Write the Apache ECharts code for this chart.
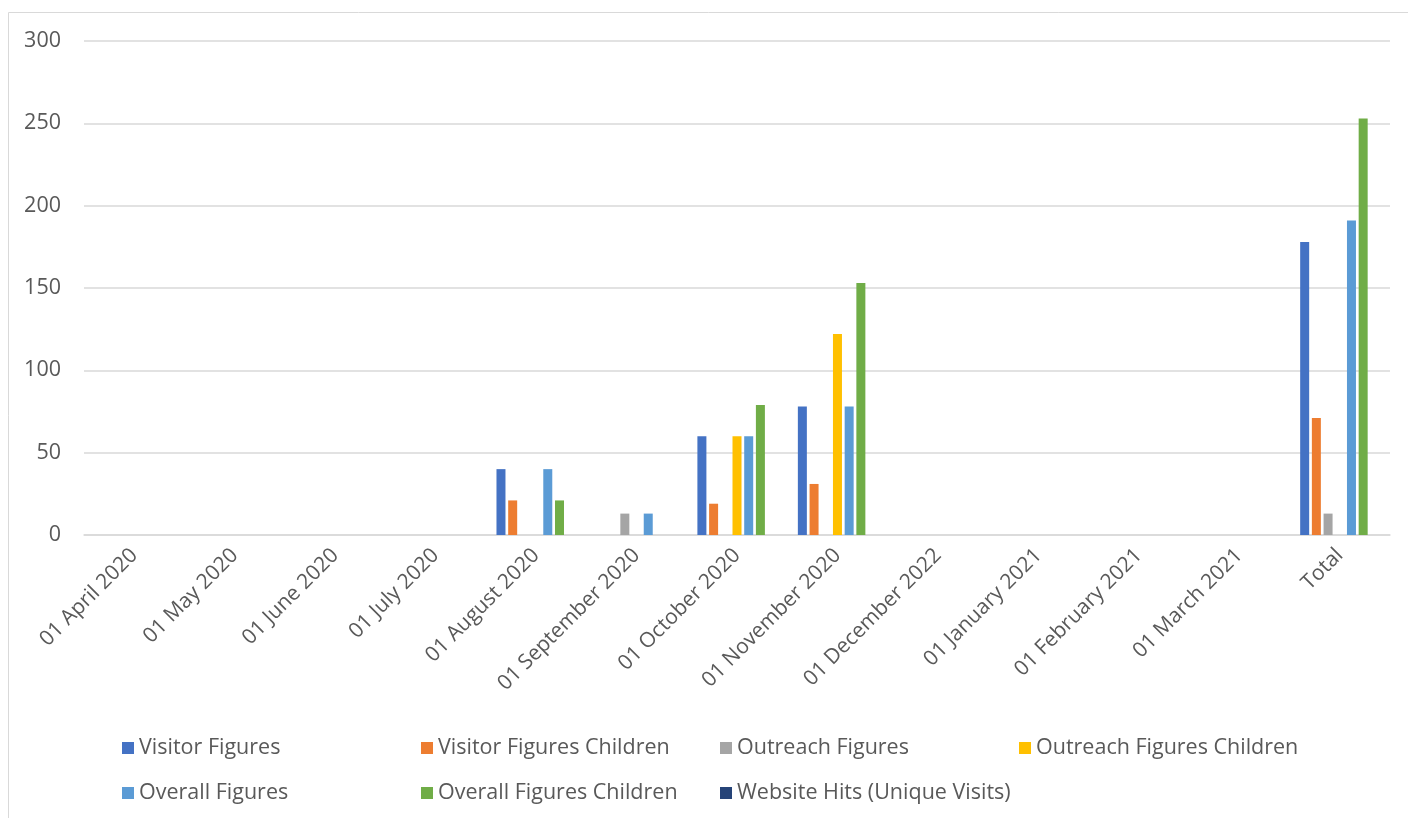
<!DOCTYPE html>
<html>
<head>
<meta charset="utf-8">
<script src="https://cdn.jsdelivr.net/npm/echarts@6/dist/echarts.min.js"></script>
<style>html,body{margin:0;padding:0;background:#fff}#c{width:1408px;height:818px}</style>
</head>
<body>
<div id="c"></div>
<script>
const categories = ['01 April 2020','01 May 2020','01 June 2020','01 July 2020','01 August 2020','01 September 2020','01 October 2020','01 November 2020','01 December 2022','01 January 2021','01 February 2021','01 March 2021','Total'];
const seriesNames = ['Visitor Figures','Visitor Figures Children','Outreach Figures','Outreach Figures Children','Overall Figures','Overall Figures Children','Website Hits (Unique Visits)'];
const colors = ['#4472C4','#ED7D31','#A5A5A5','#FFC000','#5B9BD5','#70AD47','#264478'];
const visitorFigures          = [null,null,null,null,40,null,60,78,null,null,null,null,178];
const visitorFiguresChildren  = [null,null,null,null,21,null,19,31,null,null,null,null,71];
const outreachFigures         = [null,null,null,null,null,13,null,null,null,null,null,null,13];
const outreachFiguresChildren = [null,null,null,null,null,null,60,122,null,null,null,null,null];
const overallFigures          = [null,null,null,null,40,13,60,78,null,null,null,null,191];
const overallFiguresChildren  = [null,null,null,null,21,null,79,153,null,null,null,null,253];
const websiteHits             = [null,null,null,null,null,null,null,null,null,null,null,null,null];
const yTicks = [0,50,100,150,200,250,300];

const allData = [visitorFigures,visitorFiguresChildren,outreachFigures,outreachFiguresChildren,overallFigures,overallFiguresChildren,websiteHits];
const font = '"Open Sans", sans-serif';
const txt = '#595959';

const legendPos = [[122,737],[421,737],[720,737],[1019,737],[122,782],[421,782],[720,782]];
const legends = seriesNames.map((n,i)=>({
  data:[n], left:legendPos[i][0], top:legendPos[i][1], padding:0, itemWidth:12, itemHeight:12, icon:'rect', itemGap:0,
  textStyle:{color:txt, fontSize:21.5, fontFamily:font, padding:[0,0,0,0]}
}));

const chart = echarts.init(document.getElementById('c'));
chart.setOption({
  animation:false,
  color: colors,
  graphic:[{type:'rect', shape:{x:8.5,y:12.5,width:1500,height:1000}, style:{fill:'none', stroke:'#D9D9D9', lineWidth:1}}],
  grid:{left:84, right:18, top:41, bottom:283, containLabel:false},
  legend: legends,
  xAxis:{type:'category', data:categories,
    axisLine:{lineStyle:{color:'#D9D9D9', width:1.5}}, axisTick:{show:false},
    axisLabel:{rotate:45, interval:0, color:txt, fontSize:21, fontFamily:font, margin:17}},
  yAxis:{type:'value', min:yTicks[0], max:yTicks[yTicks.length-1], interval:50,
    axisLine:{show:false}, axisTick:{show:false},
    splitLine:{lineStyle:{color:'#D9D9D9', width:1.5}},
    axisLabel:{color:txt, fontSize:21.5, fontFamily:font, margin:23}},
  series: seriesNames.map((n,i)=>({name:n, type:'bar', data:allData[i], barWidth:9, barGap:'30%'}))
});
</script>
</body>
</html>
